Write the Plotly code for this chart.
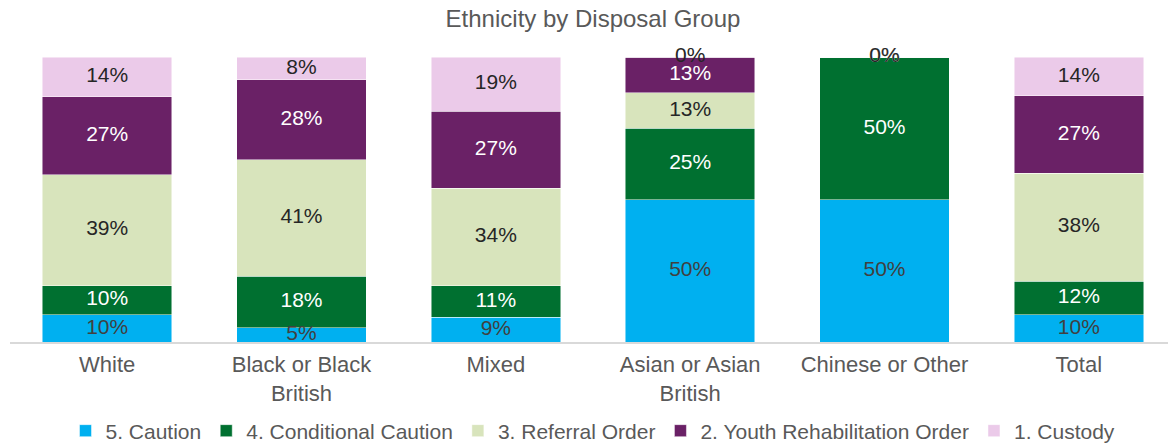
import plotly.graph_objects as go

categories = ["White", "Black or Black<br>British", "Mixed", "Asian or Asian<br>British", "Chinese or Other", "Total"]

caution = [9.6, 5.0, 8.6, 50.0, 50.0, 9.6]
conditional_caution = [10.2, 18.0, 11.2, 25.0, 50.0, 11.8]
referral_order = [38.9, 41.0, 34.2, 12.5, 0.0, 37.8]
youth_rehab_order = [27.4, 28.0, 26.9, 12.5, 0.0, 27.2]
custody = [13.9, 8.0, 19.1, 0.0, 0.0, 13.6]

series_names = ["5. Caution", "4. Conditional Caution", "3. Referral Order",
                "2. Youth Rehabilitation Order", "1. Custody"]
series_values = [caution, conditional_caution, referral_order, youth_rehab_order, custody]
series_colors = ["#00B0F0", "#007030", "#D8E4BC", "#6A2166", "#EBCAE9"]
label_colors = ["#404040", "#FFFFFF", "#262626", "#FFFFFF", "#262626"]

FONT = "Liberation Sans, Arial, sans-serif"
W, H = 1168, 435  # page body has an 8px margin

fig = go.Figure()
for name, vals, col in zip(series_names, series_values, series_colors):
    fig.add_trace(go.Bar(
        x=categories, y=vals, name=name,
        marker=dict(color=col, line=dict(color="rgba(255,255,255,0.6)", width=0.8)),
        hoverinfo="skip",
    ))

# data labels, placed at segment midpoints computed from the data
base = [0.0] * len(categories)
for vals, tcol in zip(series_values, label_colors):
    mids = [b + v / 2 for b, v in zip(base, vals)]
    fig.add_trace(go.Scatter(
        x=categories, y=mids, mode="text",
        customdata=vals,
        texttemplate="%{customdata:.0f}%",
        textfont=dict(color=tcol, size=21, family=FONT),
        showlegend=False, hoverinfo="skip", cliponaxis=False,
    ))
    base = [b + v for b, v in zip(base, vals)]

fig.update_layout(
    barmode="stack",
    bargap=0.333,
    width=W, height=H,
    margin=dict(l=2, r=0, t=49, b=101, autoexpand=False),
    paper_bgcolor="white", plot_bgcolor="white",
    font=dict(family=FONT, color="#595959", size=21),
    title=dict(text="Ethnicity by Disposal Group", x=0.5, xanchor="center",
               xref="paper", yref="container", y=1 - 11 / H, yanchor="middle",
               font=dict(size=24, color="#595959")),
    showlegend=True,
    legend=dict(orientation="h", x=0.5, xanchor="center",
                yref="container", y=1 - 423 / H, yanchor="middle",
                font=dict(size=21, color="#595959"), traceorder="normal",
                itemwidth=30, itemclick=False),
    xaxis=dict(showline=True, linecolor="#D9D9D9", linewidth=1.5, ticks="",
               tickfont=dict(size=22, color="#595959"), showgrid=False,
               ticklabelstandoff=2),
    yaxis=dict(range=[0, 100], visible=False, showgrid=False),
)

fig.write_html("out.html")
